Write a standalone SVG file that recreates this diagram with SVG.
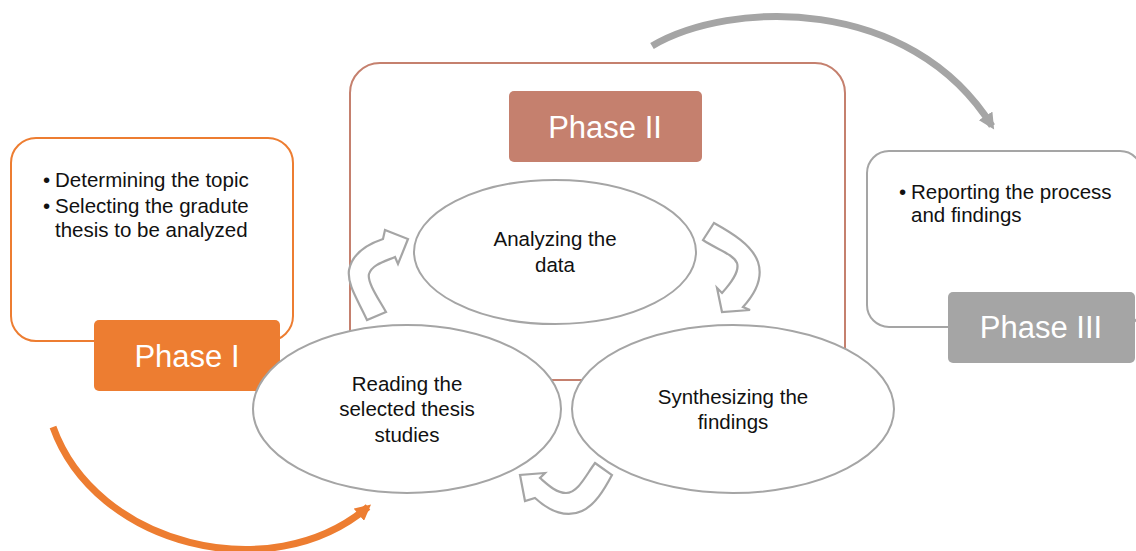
<svg xmlns="http://www.w3.org/2000/svg" width="1136" height="551" viewBox="0 0 1136 551">
<style>
.t{font-family:"Liberation Sans",Arial,sans-serif;font-size:20.5px;fill:#111}
.ph{font-family:"Liberation Sans",Arial,sans-serif;font-size:31px;fill:#fff;text-anchor:middle}
.el{fill:#fff;stroke:#A5A5A5;stroke-width:2}
.ba{fill:#fff;stroke:#A5A5A5;stroke-width:2.2;stroke-linejoin:miter}
.c{text-anchor:middle}
</style>
<defs>
<marker id="ag" markerUnits="userSpaceOnUse" markerWidth="18" markerHeight="16" refX="12" refY="8" orient="auto">
<path d="M0,0 L16,8 L0,16 Z" fill="#A5A5A5"/>
</marker>
<marker id="ao" markerUnits="userSpaceOnUse" markerWidth="18" markerHeight="16" refX="12" refY="8" orient="auto">
<path d="M0,0 L16,8 L0,16 Z" fill="#ED7D31"/>
</marker>
</defs>
<rect width="1136" height="551" fill="#fff"/>
<g id="connectors">
<path d="M652,46 C730,0 910,-5 992,126" fill="none" stroke="#A5A5A5" stroke-width="7" marker-end="url(#ag)"/>
<path d="M53,427 C95,545 270,590 368,507" fill="none" stroke="#ED7D31" stroke-width="7" marker-end="url(#ao)"/>
</g>
<g id="phase1">
<rect x="11" y="138" width="282" height="203" rx="25" fill="#fff" stroke="#ED7D31" stroke-width="2"/>
<text class="t" x="43" y="187">•</text>
<text class="t" x="55" y="187">Determining the topic</text>
<text class="t" x="43" y="213">•</text>
<text class="t" x="55" y="213">Selecting the gradute</text>
<text class="t" x="55" y="237">thesis to be analyzed</text>
<rect x="94" y="320" width="186" height="71" rx="5" fill="#ED7D31"/>
<text class="ph" x="187" y="367">Phase I</text>
</g>
<g id="phase3">
<rect x="867" y="151" width="275" height="176" rx="22" fill="#fff" stroke="#A5A5A5" stroke-width="2"/>
<text class="t" x="899" y="199">•</text>
<text class="t" x="911" y="199">Reporting the process</text>
<text class="t" x="911" y="222">and findings</text>
<rect x="948" y="292" width="187" height="71" rx="5" fill="#A5A5A5"/>
<text class="ph" x="1041" y="338">Phase III</text>
</g>
<g id="phase2">
<rect x="350" y="63" width="495" height="317" rx="30" fill="#fff" stroke="#C5806E" stroke-width="2"/>
<rect x="509" y="91" width="193" height="71" rx="5" fill="#C5806E"/>
<text class="ph" x="605" y="138">Phase II</text>
</g>
<g id="analyzing">
<ellipse class="el" cx="555" cy="252" rx="141" ry="72"/>
<text class="t c" x="555" y="246">Analyzing the</text>
<text class="t c" x="555" y="272">data</text>
</g>
<g id="reading">
<ellipse class="el" cx="407" cy="409" rx="154" ry="84"/>
<text class="t c" x="407" y="391">Reading the</text>
<text class="t c" x="407" y="416">selected thesis</text>
<text class="t c" x="407" y="442">studies</text>
</g>
<g id="synthesizing">
<ellipse class="el" cx="733" cy="409" rx="161" ry="84"/>
<text class="t c" x="733" y="404">Synthesizing the</text>
<text class="t c" x="733" y="429">findings</text>
</g>
<g id="cycle-arrows">
<path class="ba" d="M367,320 C358,300 347,285 349,270 C352,255 365,245 383,239 L385,230 L408,239 L398,264 L395,257 C383,262 372,265 369,274 C367,282 378,298 386,312 Z"/>
<path class="ba" d="M703,240 L714,223 C732,233 752,245 758,262 C764,280 753,296 743,307 L750,310 L722,312 L717,288 L722,293 C730,284 740,272 737,263 C733,254 718,250 703,240 Z"/>
<path class="ba" d="M595,463 L612,475 C604,490 595,505 582,511 C567,518 550,512 535,498 L525,501 L520,475 L545,473 L540,478 C547,484 556,493 566,493 C578,493 586,475 595,463 Z"/>
</g>
</svg>
